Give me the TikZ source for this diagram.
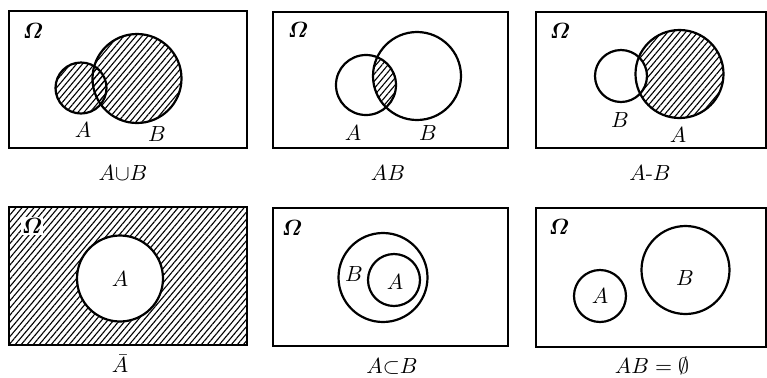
\documentclass[tikz,border=0pt]{standalone}
\usepackage{amsmath,amssymb}
\usetikzlibrary{patterns.meta}
\begin{document}
\begin{tikzpicture}[x=0.5pt,y=-0.5pt,
  frame/.style={draw,line width=0.8pt},
  setc/.style={draw,line width=1.1pt},
  hatch/.style={pattern={Lines[angle=50,distance=2.3pt,line width=0.55pt]}},
  lbl/.style={font=\fontsize{11}{13}\selectfont,inner sep=0pt},
  om/.style={font=\fontsize{10.5}{12}\selectfont,inner sep=0pt}]
\useasboundingbox (0,0) rectangle (767,377);
% ---------- panel 1: A union B
\draw[frame] (9,11) rectangle (247,148);
\node[om] (om1) at (33,31) {$\boldsymbol{\varOmega}$};
\fill[hatch] (81,88) circle[radius=12.75pt];
\fill[hatch] (137,78.5) circle[radius=22.25pt];
\draw[setc] (81,88) circle[radius=12.75pt];
\draw[setc] (137,78.5) circle[radius=22.25pt];
\node[lbl] (a1) at (83,130) {$A$};
\node[lbl] (b1) at (157,134) {$B$};
\node[lbl] (c1) at (123,173) {$A{\cup}B$};
% ---------- panel 2: AB
\draw[frame] (273,12) rectangle (508,148);
\node[om] (om2) at (298,30) {$\boldsymbol{\varOmega}$};
\begin{scope}
  \clip (366,85) circle[radius=15pt];
  \fill[hatch] (417,76) circle[radius=22pt];
\end{scope}
\draw[setc] (366,85) circle[radius=15pt];
\draw[setc] (417,76) circle[radius=22pt];
\node[lbl] (a2) at (353,133) {$A$};
\node[lbl] (b2) at (428,133) {$B$};
\node[lbl] (c2) at (388,173) {$AB$};
% ---------- panel 3: A - B
\draw[frame] (536,12) rectangle (766,148);
\node[om] (om3) at (560,31) {$\boldsymbol{\varOmega}$};
\fill[hatch] (679.5,74) circle[radius=22pt];
\fill[white] (621,76) circle[radius=13pt];
\draw[setc] (679.5,74) circle[radius=22pt];
\draw[setc] (621,76) circle[radius=13pt];
\node[lbl] (b3) at (620,120) {$B$};
\node[lbl] (a3) at (678,135) {$A$};
\node[lbl] (c3) at (650,173) {$A\text{-}B$};
% ---------- panel 4: complement of A
\fill[hatch] (9,207) rectangle (247,345);
\fill[white] (120,278.5) circle[radius=21.5pt];
\draw[frame] (9,207) rectangle (247,345);
\draw[setc] (120,278.5) circle[radius=21.5pt];
\node[om,fill=white,inner sep=0.5pt] (om4) at (32,226) {$\boldsymbol{\varOmega}$};
\node[lbl] (a4) at (120,279) {$A$};
\node[lbl] (c4) at (120,364) {$\bar{A}$};
% ---------- panel 5: A subset B
\draw[frame] (273,208) rectangle (508,346);
\node[om] (om5) at (292,228) {$\boldsymbol{\varOmega}$};
\draw[setc] (383,277.5) circle[radius=22.25pt];
\draw[setc] (394,280) circle[radius=13pt];
\node[lbl] (b5) at (354,274) {$B$};
\node[lbl] (a5) at (395,282) {$A$};
\node[lbl] (c5) at (392,366) {$A{\subset}B$};
% ---------- panel 6: AB = empty
\draw[frame] (536,208) rectangle (766,347);
\node[om] (om6) at (559,227) {$\boldsymbol{\varOmega}$};
\draw[setc] (600,296) circle[radius=13pt];
\draw[setc] (685.5,270) circle[radius=22pt];
\node[lbl] (a6) at (600,296) {$A$};
\node[lbl] (b6) at (685,278) {$B$};
\node[lbl] (c6) at (652,366) {$AB=\emptyset$};
\end{tikzpicture}
\end{document}
